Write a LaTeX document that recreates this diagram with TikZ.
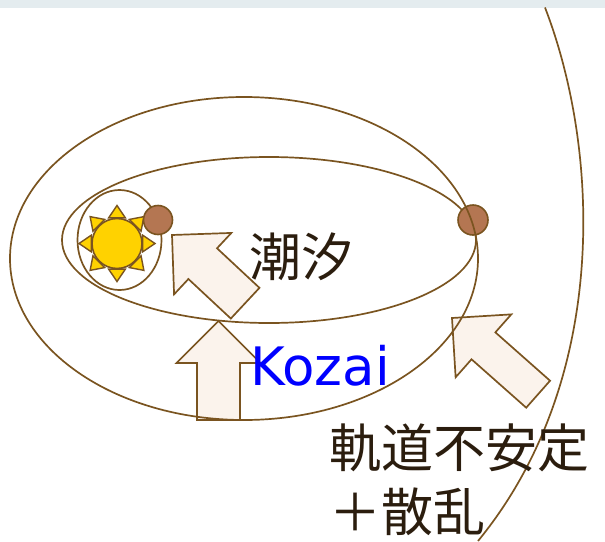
\documentclass[tikz,border=0pt]{standalone}
\usepackage{fontspec}
\newfontfamily\jpfont{Noto Sans CJK JP}
\newfontfamily\latinfont{DejaVu Sans}
\usetikzlibrary{calc}

\definecolor{orbitbrown}{HTML}{7A5420}
\definecolor{sunyellow}{HTML}{FFD200}
\definecolor{planetbrown}{HTML}{B47652}
\definecolor{arrowcream}{HTML}{FBF3EC}
\definecolor{inkbrown}{HTML}{2B1D0E}
\definecolor{topbar}{HTML}{E4ECEF}

\begin{document}
\begin{tikzpicture}[
    x=1pt, y=-1pt,
    orbit/.style={draw=orbitbrown, line width=1.7pt},
    planet/.style={circle, draw=orbitbrown, line width=1.6pt, fill=planetbrown, inner sep=0pt},
    sundisc/.style={circle, draw=orbitbrown, line width=1.6pt, fill=sunyellow, minimum size=50pt, inner sep=0pt},
    ray/.style={draw=orbitbrown, line width=1.4pt, fill=sunyellow, line join=miter},
    fatarrow/.style={draw=orbitbrown, line width=1.7pt, fill=arrowcream, line join=miter},
    jplabel/.style={font=\jpfont\fontsize{52}{64}\selectfont, text=inkbrown, inner sep=0pt},
    pics/blockarrow/.style n args={2}{code={
        % tip at the origin, shaft along -x
        \draw[fatarrow] (0,0) -- (-42,-42) -- (-42,-#1) -- (-#2,-#1)
            -- (-#2,#1) -- (-42,#1) -- (-42,42) -- cycle;
    }}
]
\useasboundingbox (0,0) rectangle (605,541);
\fill[topbar] (0,0) rectangle (605,7.5);

% push arrows
\pic[rotate=137] at (172,235) {blockarrow={21}{100}};
\pic[rotate=90] at (218.5,321) {blockarrow={21.5}{99}};
\pic[rotate=138.5] at (452,318) {blockarrow={18}{115}};

% orbits
\draw[orbit] (269,240) ellipse [x radius=207pt, y radius=83pt];
\node[planet, minimum size=30pt] (outerplanet) at (473,220) {};
\draw[orbit] (244,258.5) ellipse [x radius=234pt, y radius=161.5pt];
\draw[orbit] (545,7.5) .. controls (600,150) and (610,380) .. (478,541);
\draw[orbit] (119.5,240) ellipse [x radius=42pt, y radius=50pt];

% sun
\coordinate (suncentre) at (117,243.5);
\foreach \a in {0,45,...,315}
    \draw[ray, shift={(suncentre)}] (\a:38) -- (\a+18:27) -- (\a-18:27) -- cycle;
\node[sundisc] (sun) at (suncentre) {};
\node[planet, minimum size=29pt] (innerplanet) at (158,220) {};

% labels
\node[jplabel] (tide) at (301,257) {潮汐};
\node[font=\latinfont\fontsize{53}{60}\selectfont, text=blue, inner sep=0pt, anchor=base] (kozai) at (320,385) {Kozai};
\node[jplabel, anchor=west] (unstable) at (329,448) {軌道不安定};
\node[jplabel, anchor=west] (scatter) at (329,512) {＋散乱};
\end{tikzpicture}
\end{document}
